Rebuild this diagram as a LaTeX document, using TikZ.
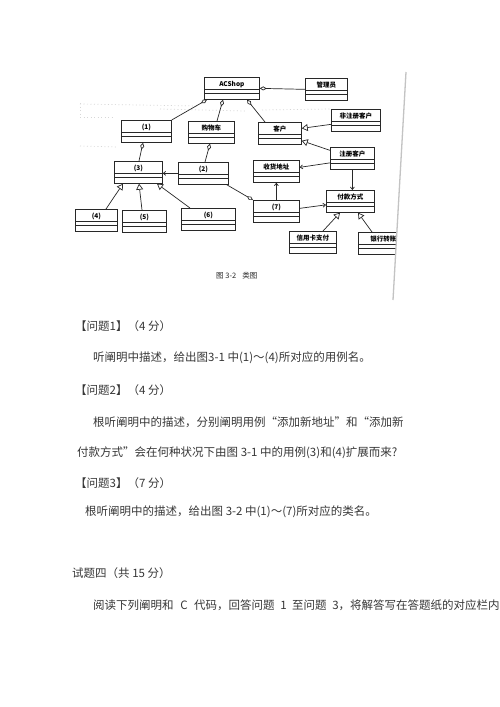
\documentclass[tikz,border=0pt]{standalone}
\usepackage{fontspec}
\newfontfamily\cjk{Noto Sans CJK SC}
\usetikzlibrary{arrows.meta}
\definecolor{inkgray}{RGB}{40, 40, 40}
\definecolor{textgray}{RGB}{55, 55, 55}
\definecolor{edgegray}{RGB}{195, 195, 195}
\definecolor{noisegray}{RGB}{215, 215, 215}
\tikzset{
  cls/.style      = {rectangle, draw=inkgray, line width=0.7pt, fill=white, anchor=north west, minimum height=22pt,
                     text height=7pt, text depth=11pt, inner ysep=2pt, font=\cjk\bfseries\fontsize{6.5}{7}\selectfont,
                     path picture={
                       \draw[inkgray, line width=0.7pt] ([yshift=-12pt]path picture bounding box.north west) -- ([yshift=-12pt]path picture bounding box.north east);
                       \draw[inkgray, line width=0.7pt] ([yshift=-16pt]path picture bounding box.north west) -- ([yshift=-16pt]path picture bounding box.north east);}},
  agg/.style      = {{Diamond[open, length=7pt, width=4pt]}-, inkgray, line width=0.7pt},
  gen/.style      = {-{Triangle[open, length=6pt, width=7pt]}, inkgray, line width=0.7pt},
  assoc/.style    = {-{Straight Barb[length=2.5pt, width=4pt]}, inkgray, line width=0.7pt},
  noise/.style    = {noisegray, line width=0.7pt, dash pattern=on 1pt off 2.5pt},
  txt/.style      = {anchor=west, inner sep=0pt, text=textgray, font=\cjk\fontsize{11.5}{14}\selectfont},
}

\begin{document}
\begin{tikzpicture}[x=1pt, y=-1pt]
  \useasboundingbox[fill=white] (0,0) rectangle (500,707);

  % scan noise
  \draw[noise] (80,103) -- (80,117) -- (112,117);
  \draw[noise] (80,104) -- (198,106);
  \draw[noise] (160,109) -- (245,111);
  \draw[noise] (262,110) -- (330,109);
  \draw[noise] (80,146) -- (118,147);

  % classes
  \node[cls, minimum width=55pt] (acshop) at (204,77)  {ACShop};
  \node[cls, minimum width=42pt] (admin)  at (305,78)  {管理员};
  \node[cls, minimum width=50pt] (c1)     at (121,120) {(1)};
  \node[cls, minimum width=46pt] (cart)   at (188,121) {购物车};
  \node[cls, minimum width=43pt] (cust)   at (258,122) {客户};
  \node[cls, minimum width=49pt] (nonreg) at (331,109) {非注册客户};
  \node[cls, minimum width=44pt] (reg)    at (330,147) {注册客户};
  \node[cls, minimum width=48pt] (c3)     at (114,161) {(3)};
  \node[cls, minimum width=50pt] (c2)     at (178,162) {(2)};
  \node[cls, minimum width=46pt] (addr)   at (253,160) {收货地址};
  \node[cls, minimum width=48pt] (pay)    at (326,190) {付款方式};
  \node[cls, minimum width=42pt] (c4)     at (75,209)  {(4)};
  \node[cls, minimum width=44pt] (c5)     at (122,210) {(5)};
  \node[cls, minimum width=54pt] (c6)     at (181,208) {(6)};
  \node[cls, minimum width=46pt] (c7)     at (253,200) {(7)};
  \node[cls, minimum width=47pt] (credit) at (289,231) {信用卡支付};
  \node[cls, minimum width=50pt] (bank)   at (358,232) {银行转账};

  % aggregations
  \draw[agg] ([xshift=3pt]acshop.south west) -- (c1.north east);
  \draw[agg] ([xshift=19pt]acshop.south west) -- ([xshift=29pt]cart.north west);
  \draw[agg] ([xshift=43pt]acshop.south west) -- ([xshift=7pt]cust.north west);
  \draw[agg] (acshop.east) -- (admin.west);
  \draw[agg] ([xshift=22pt]c1.south west) -- ([xshift=25pt]c3.north west);
  \draw[agg] ([xshift=22pt]cart.south west) -- ([xshift=27pt]c2.north west);
  \draw[agg] (c7.north west) -- ([xshift=-2pt]c2.south east);

  % generalizations
  \draw[gen] ([yshift=-4pt]nonreg.west) -- ([yshift=5pt]cust.east);
  \draw[gen] ([yshift=8pt]reg.west) -- ([yshift=4pt]cust.south east);
  \draw[gen] ([xshift=31pt]c4.north west) -- ([xshift=9pt]c3.south west);
  \draw[gen] ([xshift=20pt]c5.north west) -- ([xshift=25pt]c3.south west);
  \draw[gen] ([xshift=9pt]c6.north west) -- ([xshift=43pt]c3.south west);
  \draw[gen] ([xshift=34pt]credit.north west) -- ([xshift=14pt]pay.south west);
  \draw[gen] ([xshift=14pt]bank.north west) -- ([xshift=32pt]pay.south west);

  % associations
  \draw[assoc] ([yshift=-4.5pt]reg.west) -- ([yshift=4pt]addr.east);
  \draw[assoc] (reg.south) -- (reg.south |- pay.north);
  \draw[assoc] (c2.west) -- (c2.west -| c3.east);
  \draw[assoc] (c7.north) -- (addr.south);
  \draw[assoc] ([yshift=3pt]c7.east) -- ([yshift=-3.5pt]pay.west);

  % page edge of the scan
  \fill[white] (406,72) -- (500,72) -- (500,300) -- (393,300) -- cycle;
  \draw[edgegray, line width=1.3pt] (406,72) -- (393,300);

  \node[anchor=west, inner sep=0pt, text=inkgray, font=\cjk\fontsize{7.5}{8}\selectfont] (caption) at (216,276) {图 3-2\hspace{6pt}类图};

  % questions
  \node[txt] (q1)  at (75,326) {【问题1】（4 分）};
  \node[txt] (q1a) at (93,358) {听阐明中描述，给出图3-1 中(1)～(4)所对应的用例名。};
  \node[txt] (q2)  at (75,390) {【问题2】（4 分）};
  \node[txt] (q2a) at (93,422) {根听阐明中的描述，分别阐明用例“添加新地址”和“添加新};
  \node[txt] (q2b) at (77,453) {付款方式”会在何种状况下由图 3-1 中的用例(3)和(4)扩展而来?};
  \node[txt] (q3)  at (75,483) {【问题3】（7 分）};
  \node[txt] (q3a) at (85,512) {根听阐明中的描述，给出图 3-2 中(1)～(7)所对应的类名。};
  \node[txt] (t4)  at (72,573) {试题四（共 15 分）};
  \node[txt] (t4a) at (93,605) {阅读下列阐明和\hspace{4pt} C\hspace{4pt} 代码，回答问题\hspace{3pt} 1\hspace{3pt} 至问题\hspace{3pt} 3，将解答写在答题纸的对应栏内};
\end{tikzpicture}
\end{document}
